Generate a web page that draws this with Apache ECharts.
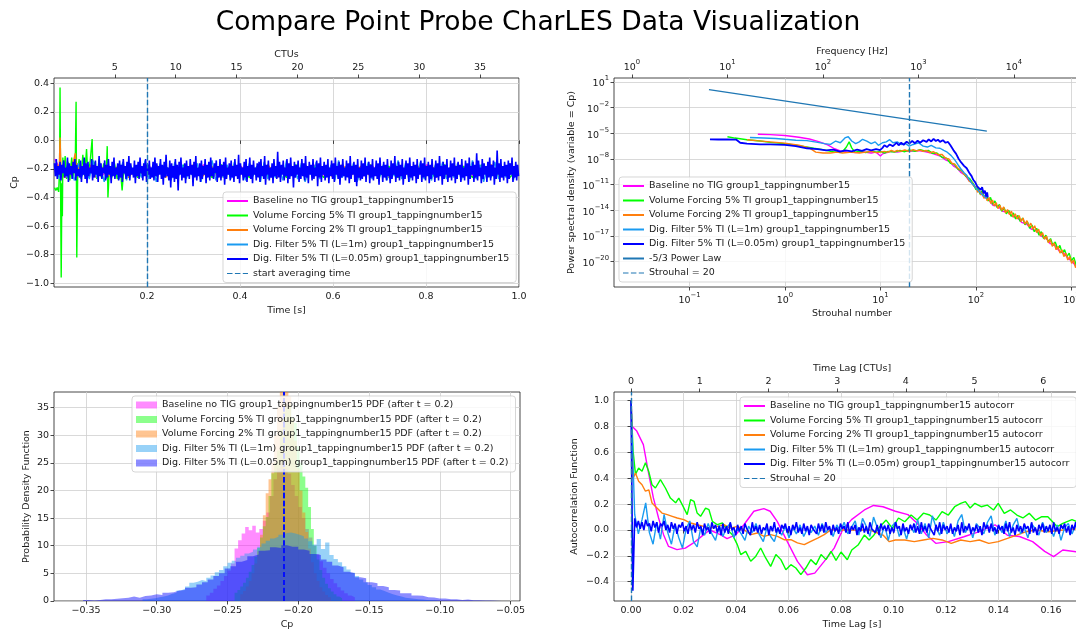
<!DOCTYPE html>
<html><head><meta charset="utf-8">
<script src="https://cdn.jsdelivr.net/npm/echarts@6/dist/echarts.min.js"></script>
<style>html,body{margin:0;padding:0;background:#fff}#c{width:1076px;height:633px}</style>
</head><body><div id="c"></div>
<script>
// ---------------- shared ----------------
const seriesNames = [
  'Baseline no TIG group1_tappingnumber15',
  'Volume Forcing 5% TI group1_tappingnumber15',
  'Volume Forcing 2% TI group1_tappingnumber15',
  'Dig. Filter 5% TI (L=1m) group1_tappingnumber15',
  'Dig. Filter 5% TI (L=0.05m) group1_tappingnumber15'
];
const seriesColors = ['#ff00ff', '#00ff00', '#ff7f0e', '#1a9bf0', '#0000ff'];
const refColor = '#1f77b4';

// ---------------- plot 1: Cp time series ----------------
const tsStartDF005 = 0.001, tsStepDF005 = 0.002;
const cpDF005 = [
-0.16,-0.25,-0.13,-0.27,-0.18,-0.24,-0.15,-0.28,-0.17,-0.23,
-0.14,-0.26,-0.19,-0.25,-0.12,-0.29,-0.16,-0.24,-0.18,-0.27,
-0.15,-0.23,-0.13,-0.28,-0.17,-0.25,-0.20,-0.26,-0.14,-0.29,
-0.18,-0.24,-0.12,-0.27,-0.16,-0.30,-0.15,-0.25,-0.19,-0.23,
-0.13,-0.28,-0.17,-0.26,-0.14,-0.24,-0.18,-0.29,-0.11,-0.25,
-0.16,-0.27,-0.19,-0.23,-0.14,-0.28,-0.17,-0.26,-0.13,-0.24,
-0.18,-0.30,-0.15,-0.25,-0.12,-0.27,-0.19,-0.24,-0.16,-0.28,
-0.14,-0.26,-0.17,-0.29,-0.13,-0.23,-0.18,-0.27,-0.15,-0.25,
-0.11,-0.28,-0.16,-0.24,-0.19,-0.26,-0.14,-0.30,-0.17,-0.25,
-0.15,-0.27,-0.12,-0.23,-0.18,-0.28,-0.16,-0.25,-0.13,-0.29,
-0.17,-0.24,-0.14,-0.27,-0.19,-0.26,-0.15,-0.28,-0.12,-0.25,
-0.16,-0.29,-0.18,-0.24,-0.13,-0.27,-0.17,-0.31,-0.15,-0.26,
-0.10,-0.25,-0.19,-0.28,-0.14,-0.33,-0.16,-0.26,-0.18,-0.29,
-0.13,-0.27,-0.17,-0.35,-0.15,-0.24,-0.12,-0.28,-0.19,-0.26,
-0.16,-0.30,-0.14,-0.25,-0.18,-0.27,-0.13,-0.24,-0.17,-0.32,
-0.15,-0.26,-0.11,-0.28,-0.19,-0.25,-0.16,-0.29,-0.14,-0.27,
-0.18,-0.24,-0.13,-0.30,-0.17,-0.26,-0.15,-0.28,-0.12,-0.25,
-0.19,-0.27,-0.16,-0.23,-0.14,-0.29,-0.18,-0.26,-0.13,-0.28,
-0.17,-0.25,-0.15,-0.31,-0.12,-0.27,-0.19,-0.24,-0.16,-0.28,
-0.14,-0.26,-0.18,-0.29,-0.13,-0.25,-0.17,-0.27,-0.10,-0.30,
-0.16,-0.24,-0.19,-0.28,-0.15,-0.26,-0.13,-0.29,-0.18,-0.25,
-0.12,-0.27,-0.17,-0.30,-0.14,-0.24,-0.19,-0.28,-0.16,-0.26,
-0.15,-0.29,-0.13,-0.25,-0.18,-0.27,-0.11,-0.31,-0.17,-0.24,
-0.14,-0.28,-0.19,-0.26,-0.16,-0.30,-0.13,-0.25,-0.18,-0.27,
-0.08,-0.26,-0.15,-0.29,-0.17,-0.24,-0.14,-0.28,-0.19,-0.25,
-0.13,-0.30,-0.16,-0.27,-0.12,-0.25,-0.18,-0.33,-0.15,-0.26,
-0.17,-0.24,-0.14,-0.29,-0.19,-0.27,-0.13,-0.25,-0.16,-0.28,
-0.11,-0.26,-0.18,-0.30,-0.15,-0.24,-0.17,-0.28,-0.13,-0.27,
-0.19,-0.25,-0.14,-0.32,-0.16,-0.26,-0.12,-0.29,-0.18,-0.24,
-0.15,-0.28,-0.17,-0.26,-0.13,-0.30,-0.19,-0.25,-0.14,-0.27,
-0.16,-0.29,-0.12,-0.24,-0.18,-0.27,-0.15,-0.31,-0.17,-0.26,
-0.13,-0.25,-0.19,-0.28,-0.14,-0.26,-0.16,-0.30,-0.11,-0.27,
-0.18,-0.24,-0.15,-0.29,-0.17,-0.32,-0.13,-0.26,-0.19,-0.28,
-0.14,-0.27,-0.16,-0.25,-0.12,-0.29,-0.18,-0.24,-0.15,-0.30,
-0.17,-0.26,-0.13,-0.28,-0.19,-0.25,-0.14,-0.27,-0.16,-0.31,
-0.12,-0.24,-0.18,-0.29,-0.15,-0.26,-0.17,-0.28,-0.13,-0.25,
-0.19,-0.30,-0.14,-0.27,-0.16,-0.24,-0.11,-0.29,-0.18,-0.26,
-0.15,-0.28,-0.17,-0.25,-0.13,-0.31,-0.19,-0.27,-0.14,-0.24,
-0.16,-0.29,-0.12,-0.26,-0.18,-0.28,-0.15,-0.25,-0.17,-0.30,
-0.13,-0.27,-0.19,-0.24,-0.14,-0.29,-0.16,-0.26,-0.12,-0.28,
-0.18,-0.25,-0.15,-0.30,-0.17,-0.27,-0.13,-0.24,-0.19,-0.29,
-0.14,-0.26,-0.16,-0.28,-0.11,-0.25,-0.18,-0.31,-0.15,-0.27,
-0.17,-0.24,-0.13,-0.29,-0.19,-0.26,-0.14,-0.28,-0.16,-0.25,
-0.12,-0.30,-0.18,-0.27,-0.15,-0.24,-0.17,-0.29,-0.13,-0.26,
-0.19,-0.28,-0.14,-0.25,-0.16,-0.31,-0.12,-0.27,-0.18,-0.24,
-0.15,-0.29,-0.17,-0.26,-0.09,-0.28,-0.14,-0.25,-0.19,-0.30,
-0.13,-0.27,-0.16,-0.24,-0.18,-0.29,-0.15,-0.26,-0.12,-0.28,
-0.17,-0.25,-0.14,-0.31,-0.19,-0.27,-0.07,-0.24,-0.16,-0.29,
-0.13,-0.26,-0.18,-0.28,-0.15,-0.25,-0.17,-0.30,-0.14,-0.27,
-0.16,-0.24,-0.12,-0.29,-0.18,-0.26,-0.15,-0.28,-0.17,-0.25
];
const tsStartDF1 = 0.004, tsStepDF1 = 0.008;
const cpDF1 = [
-0.18,-0.27,-0.15,-0.26,-0.20,-0.28,-0.16,-0.25,-0.19,-0.27,
-0.14,-0.26,-0.18,-0.29,-0.16,-0.25,-0.20,-0.27,-0.15,-0.28,
-0.17,-0.25,-0.19,-0.26,-0.14,-0.27,-0.18,-0.29,-0.16,-0.26,
-0.19,-0.28,-0.15,-0.25,-0.17,-0.27,-0.20,-0.26,-0.16,-0.29,
-0.18,-0.25,-0.14,-0.28,-0.19,-0.26,-0.17,-0.27,-0.15,-0.26,
-0.20,-0.28,-0.16,-0.25,-0.18,-0.29,-0.15,-0.27,-0.19,-0.26,
-0.17,-0.28,-0.14,-0.25,-0.18,-0.27,-0.16,-0.29,-0.20,-0.26,
-0.15,-0.27,-0.19,-0.25,-0.17,-0.28,-0.14,-0.26,-0.18,-0.27,
-0.16,-0.29,-0.20,-0.25,-0.15,-0.27,-0.18,-0.26,-0.17,-0.28,
-0.19,-0.25,-0.14,-0.27,-0.16,-0.29,-0.18,-0.26,-0.15,-0.27,
-0.20,-0.28,-0.17,-0.25,-0.15,-0.27,-0.19,-0.26,-0.16,-0.28,
-0.18,-0.25,-0.14,-0.27,-0.17,-0.29,-0.19,-0.26,-0.15,-0.27,
-0.18,-0.26,-0.16,-0.28,-0.17
];
const tsStartBase = 0.002, tsStepBase = 0.02;
const cpBase = [
-0.13,-0.26,-0.18,-0.24,-0.17,-0.25,-0.19,-0.23,-0.18,-0.26,
-0.17,-0.24,-0.19,-0.25,-0.18,-0.23,-0.17,-0.26,-0.19,-0.24,
-0.18,-0.25,-0.17,-0.23,-0.19,-0.26,-0.18,-0.24,-0.17,-0.25,
-0.19,-0.23,-0.18,-0.26,-0.17,-0.24,-0.19,-0.25,-0.18,-0.23,
-0.17,-0.26,-0.19,-0.24,-0.18,-0.25,-0.17,-0.23,-0.19,-0.24
];
const cpVF5 = [[0.001,-0.33],[0.004,-0.35],[0.007,-0.33],[0.010,-0.36],[0.012,-0.2],[0.013,0.37],[0.0145,-0.5],[0.0155,-0.96],[0.017,-0.3],[0.018,-0.53],[0.019,-0.12],[0.021,-0.25],[0.024,-0.11],[0.027,-0.27],[0.03,-0.15],[0.034,-0.28],[0.038,-0.12],[0.042,-0.26],[0.046,-0.09],[0.0475,0.27],[0.049,-0.82],[0.051,-0.2],[0.054,-0.13],[0.058,-0.27],[0.062,-0.1],[0.066,-0.25],[0.07,-0.06],[0.073,-0.26],[0.078,-0.14],[0.082,0.01],[0.084,-0.25],[0.088,-0.15],[0.092,-0.27],[0.097,-0.13],[0.102,-0.26],[0.107,-0.16],[0.112,-0.27],[0.1145,-0.04],[0.116,-0.4],[0.119,-0.2],[0.124,-0.26],[0.13,-0.16],[0.136,-0.27],[0.142,-0.17],[0.1465,-0.35],[0.15,-0.2],[0.156,-0.26],[0.162,-0.17],[0.18,-0.26],[0.2,-0.17],[0.22,-0.25],[0.24,-0.18],[0.26,-0.26],[0.28,-0.17],[0.3,-0.25],[0.32,-0.18],[0.34,-0.26],[0.36,-0.17],[0.38,-0.25],[0.4,-0.18],[0.42,-0.26],[0.44,-0.17],[0.46,-0.25],[0.48,-0.18],[0.5,-0.26],[0.52,-0.17],[0.54,-0.25],[0.56,-0.18],[0.58,-0.26],[0.6,-0.17],[0.62,-0.25],[0.64,-0.18],[0.66,-0.26],[0.68,-0.17],[0.7,-0.25],[0.72,-0.18],[0.74,-0.26],[0.76,-0.17],[0.78,-0.25],[0.8,-0.18],[0.82,-0.26],[0.84,-0.17],[0.86,-0.25],[0.88,-0.18],[0.9,-0.26],[0.92,-0.17],[0.94,-0.25],[0.96,-0.18],[0.98,-0.26],[0.998,-0.2]];
const cpVF2 = [[0.002,-0.22],[0.008,-0.17],[0.011,-0.25],[0.013,0.02],[0.015,-0.2],[0.02,-0.16],[0.025,-0.26],[0.03,-0.18],[0.035,-0.24],[0.04,-0.17],[0.046,-0.09],[0.048,-0.27],[0.05,-0.16],[0.055,-0.24],[0.06,-0.18],[0.07,-0.25],[0.08,-0.17],[0.09,-0.26],[0.1,-0.18],[0.12,-0.25],[0.14,-0.17],[0.16,-0.26],[0.18,-0.18],[0.2,-0.25],[0.22,-0.17],[0.24,-0.26],[0.26,-0.18],[0.28,-0.24],[0.3,-0.17],[0.32,-0.25],[0.34,-0.18],[0.36,-0.26],[0.38,-0.17],[0.4,-0.24],[0.42,-0.18],[0.44,-0.25],[0.46,-0.17],[0.48,-0.26],[0.5,-0.18],[0.52,-0.24],[0.54,-0.17],[0.56,-0.25],[0.58,-0.18],[0.6,-0.26],[0.62,-0.17],[0.64,-0.24],[0.66,-0.18],[0.68,-0.25],[0.7,-0.17],[0.72,-0.26],[0.74,-0.18],[0.76,-0.24],[0.78,-0.17],[0.8,-0.25],[0.82,-0.18],[0.84,-0.26],[0.86,-0.17],[0.88,-0.24],[0.9,-0.18],[0.92,-0.25],[0.94,-0.17],[0.96,-0.26],[0.98,-0.18],[0.998,-0.24]];
const avgStartTime = 0.2;
const ctuPerSecond = 38.2;
const timeTicks = [0.2, 0.4, 0.6, 0.8, 1.0];
const cpTicks = [-1.0, -0.8, -0.6, -0.4, -0.2, 0.0, 0.2, 0.4];
const ctuTicks = [5, 10, 15, 20, 25, 30, 35];

// ---------------- plot 2: PSD ----------------
const psdBase = [[0.52,7.9e-6],[0.7,7.1e-6],[1.0,5.6e-6],[1.4,3.5e-6],[1.8,2.2e-6],[2.3,1.0e-6],[2.8,4.5e-7],[3.3,1.58e-7],[3.8,8.9e-8],[4.5,6.3e-8],[5.5,5.6e-8],[6.5,7.1e-8],[8,5.0e-8],[9,6.3e-8],[10,2.2e-8],[10.5,4.0e-8],[11,6.3e-8],[13,7.9e-8],[15,6.3e-8],[18,8.9e-8],[20,7.9e-8],[25,1.0e-7],[30,7.1e-8],[34,5.0e-8],[38,3.2e-8],[43,2.0e-8],[48,7.9e-9],[53,5.0e-9],[58,1.58e-9],[64,7.9e-10],[70,2.5e-10],[77,1.26e-10],[84,3.2e-11],[92,1.58e-11],[100,3.2e-12],[110,1.58e-12],[122,3.2e-13],[135,2.0e-13],[150,4.0e-14],[170,3.2e-14],[190,7.9e-15],[215,6.3e-15],[240,2.0e-15],[270,1.58e-15],[300,4.0e-16],[340,2.5e-16],[380,6.3e-17],[430,4.0e-17],[480,1.0e-17],[540,6.3e-18],[600,1.26e-18],[670,7.9e-19],[750,1.58e-19],[830,1.0e-19],[920,2.5e-20],[1020,1.0e-20],[1130,2.5e-21],[1250,1.0e-21],[1400,2.0e-22],[1550,7.9e-23]];
const psdVF5 = [[0.25,4.0e-6],[0.3,2.8e-6],[0.4,1.8e-6],[0.55,1.26e-6],[0.7,8.9e-7],[1.0,6.3e-7],[1.5,3.2e-7],[2.0,1.8e-7],[2.5,1.26e-7],[3.0,7.9e-8],[3.5,6.3e-8],[4.0,7.1e-8],[4.4,2.5e-7],[4.7,1.0e-6],[5.0,2.0e-7],[5.4,6.3e-8],[6,7.9e-8],[7,5.6e-8],[8,8.9e-8],[9,6.3e-8],[10,7.9e-8],[11,5.0e-8],[12,7.9e-8],[14,6.3e-8],[16,1.0e-7],[18,7.1e-8],[20,1.12e-7],[23,7.9e-8],[26,1.26e-7],[29,8.9e-8],[32,1.0e-7],[35,4.5e-8],[39,5.0e-8],[44,1.58e-8],[49,1.26e-8],[54,3.2e-9],[59,2.5e-9],[65,6.3e-10],[71,4.0e-10],[78,1.0e-10],[86,5.0e-11],[94,1.26e-11],
  [100,2.5e-12],[105,5.0e-12],[110,7.9e-13],[116,2.0e-12],[122,3.2e-13],[128,7.9e-13],[135,1.26e-13],[142,3.2e-13],[150,5.0e-14],[158,1.26e-13],[167,2.0e-14],[176,5.0e-14],[186,7.9e-15],[197,2.0e-14],[208,4.0e-15],[220,1.0e-14],[233,2.0e-15],[246,5.0e-15],[260,1.0e-15],[275,2.5e-15],[291,5.0e-16],[308,1.26e-15],[326,2.0e-16],[345,5.0e-16],[365,7.9e-17],[386,2.0e-16],[408,3.2e-17],[432,7.9e-17],[457,1.26e-17],[483,3.2e-17],[511,5.0e-18],[540,1.26e-17],[571,2.0e-18],[604,5.0e-18],[639,7.9e-19],[676,2.0e-18],[715,3.2e-19],[756,7.9e-19],[800,1.0e-19],[846,2.5e-19],[895,4.0e-20],[946,1.0e-19],[1000,1.26e-20],[1058,3.2e-20],[1119,4.0e-21],[1183,1.0e-20],[1251,1.26e-21],[1323,2.5e-21],[1400,3.2e-22],[1480,6.3e-22],[1563,7.9e-23]];
const psdVF2 = [[0.40,1.8e-6],[0.5,1.4e-6],[0.7,1.0e-6],[1.0,7.1e-7],[1.4,4.0e-7],[1.8,2.0e-7],[2.1,6.3e-8],[2.5,5.0e-8],[3.0,5.0e-8],[3.5,6.3e-8],[4.0,5.0e-8],[5,6.3e-8],[6,5.0e-8],[7,6.3e-8],[8,7.9e-8],[9,5.6e-8],[10,6.3e-8],[11,7.9e-8],[12,6.3e-8],[13,1.0e-7],[14,7.1e-8],[15,1.0e-7],[16,7.9e-8],[18,1.12e-7],[20,7.9e-8],[22,1.26e-7],[24,8.9e-8],[26,1.12e-7],[28,7.9e-8],[30,1.0e-7],[33,5.6e-8],[36,7.1e-8],[40,3.2e-8],[44,3.5e-8],[48,1.26e-8],[52,1.0e-8],[56,3.2e-9],[60,2.5e-9],[65,7.9e-10],[70,5.0e-10],[75,1.58e-10],[80,1.0e-10],[85,2.5e-11],[90,2.0e-11],[95,6.3e-12],
  [100,6.3e-12],[104,1.26e-12],[108,2.5e-12],[112,6.3e-13],[116,1.26e-12],[121,2.5e-13],[126,6.3e-13],[131,1.26e-13],[137,3.2e-13],[143,6.3e-14],[149,1.58e-13],[156,3.2e-14],[163,7.9e-14],[170,1.58e-14],[178,4.0e-14],[186,1.0e-14],[195,2.5e-14],[204,5.0e-15],[214,1.26e-14],[224,3.2e-15],[235,7.9e-15],[246,1.58e-15],[258,4.0e-15],[270,1.0e-15],[283,2.5e-15],[297,5.0e-16],[311,1.26e-15],[326,2.5e-16],[342,6.3e-16],[358,1.26e-16],[375,3.2e-16],[393,6.3e-17],[412,1.58e-16],[432,2.5e-17],[453,6.3e-17],[475,1.0e-17],[498,2.5e-17],[522,4.0e-18],[547,1.0e-17],[573,1.58e-18],[600,4.0e-18],[629,6.3e-19],[659,1.58e-18],[690,2.5e-19],[723,6.3e-19],[758,1.0e-19],[794,2.5e-19],[832,4.0e-20],[872,1.0e-19],[914,1.58e-20],[958,4.0e-20],[1004,6.3e-21],[1052,1.58e-20],[1102,2.0e-21],[1155,5.0e-21],[1210,6.3e-22],[1268,1.58e-21],[1329,2.0e-22],[1393,5.0e-22],[1460,6.3e-23],[1530,1.58e-22],[1563,4.0e-23]];
const psdDF1 = [[0.43,3.2e-6],[0.6,2.8e-6],[0.8,2.5e-6],[1.0,2.0e-6],[1.3,1.58e-6],[1.7,1.4e-6],[2.2,8.9e-7],[2.6,6.3e-7],[3.0,5.2e-7],[3.4,1.26e-6],[3.8,7.9e-7],[4.3,3.2e-6],[4.6,4.0e-6],[5.0,1.26e-6],[5.5,6.3e-7],[6.0,1.0e-6],[6.5,2.0e-6],[7.2,1.26e-6],[8,6.3e-7],[8.8,1.0e-6],[9.5,4.0e-7],[10.5,7.9e-7],[11.5,1.0e-6],[12.5,1.8e-6],[13.5,7.9e-7],[15,1.0e-6],[16.5,5.0e-7],[18,7.1e-7],[20,3.2e-7],[22,5.0e-7],[25,7.9e-7],[28,3.2e-7],[31,2.5e-7],[34,4.0e-7],[38,2.0e-7],[42,1.8e-7],[46,1.0e-7],[50,6.3e-8],[55,2.5e-8],[60,7.9e-9],[65,2.0e-9],[70,6.3e-10],[75,2.5e-10],[80,1.26e-10],[85,4.0e-11],[90,1.58e-11],[95,7.9e-12],[100,4.0e-12],[110,1.26e-12],[120,5.0e-13],[130,2.5e-13]];
const psdDF005 = [[0.164,2.0e-6],[0.2,1.9e-6],[0.25,2.0e-6],[0.31,1.8e-6],[0.34,7.9e-7],[0.4,6.3e-7],[0.55,5.2e-7],[0.7,5.0e-7],[1.0,4.5e-7],[1.3,3.2e-7],[1.7,1.8e-7],[2.2,1.4e-7],[2.7,1.0e-7],[3.2,1.26e-7],[3.77,7.2e-8],[4.3,1.0e-7],[5,7.9e-8],[5.7,1.26e-7],[6.4,8.9e-8],[7.16,1.4e-7],[8,1.0e-7],[9,1.4e-7],[9.9,1.1e-7],[10.5,2.0e-7],[11,4.0e-7],[11.7,2.5e-7],[12.5,5.0e-7],[13.5,3.2e-7],[14.8,8.1e-7],[15.5,4.0e-7],[16.5,7.9e-7],[17.5,4.5e-7],[18.8,1.07e-6],[20,6.3e-7],[21.5,1.26e-6],[23,7.1e-7],[24.5,1.4e-6],[26,7.9e-7],[28,1.58e-6],[30.4,1.0e-6],[32,2.0e-6],[34,1.12e-6],[36,2.2e-6],[38,1.26e-6],[40,1.8e-6],[42,1.0e-6],[45,1.58e-6],[48,7.9e-7],[51,1.0e-6],[54,4.0e-7],[58,1.1e-7],[62,4.0e-8],[66,1.0e-8],[70,4.0e-9],[75,1.58e-9],[80,8.3e-10],[85,2.5e-10],[90,1.0e-10],[94,3.5e-11],[98,2.0e-11],[103,6.3e-12],[108,7.9e-12],[112,2.5e-12],[116,5.0e-12],[120,1.0e-12],[124,2.0e-12],[128,4.0e-13],[131,1.26e-12],[133,3.2e-13]];
const powerLaw = [[0.16, 1.3], [130, 1.8e-5]];
const strouhalMark = 20;
const hzPerStrouhal = 40;
const stTicks = [0.1, 1, 10, 100, 1000];
const hzTicks = [1, 10, 100, 1000, 10000];
const psdTicks = [1e1, 1e-2, 1e-5, 1e-8, 1e-11, 1e-14, 1e-17, 1e-20];

// ---------------- plot 3: PDF histograms ----------------
const pdfBaseStart = -0.265, pdfBaseWidth = 0.0025;
const pdfBase = [1.0,1.5,2.2,2.8,3.6,4.5,5.5,6.8,9.5,11.0, 12.2,13.4,12.8,13.6,12.4,13.0,14.5,16.0,19.0,22.0, 24.0,25.0,24.0,23.0,21.0,19.0,17.0,15.0,13.0,11.5, 10.0,8.5,7.2,6.0,5.0,4.0,3.2,2.5,1.9,1.4, 1.0,0.7];
const pdfVF5Start = -0.245, pdfVF5Width = 0.002;
const pdfVF5 = [1.5,2.0,2.6,3.3,4.2,5.3,6.5,8.0,9.6,11.5, 13.5,15.2,19.0,23.1,25.0,27.2,31.0,34.1,35.0,35.5, 33.2,32.2,28.0,25.0,22.5,20.5,17.0,13.0,10.0,7.5, 5.6,4.2,3.1,2.3,1.7,1.2,0.8,0.5];
const pdfVF2Start = -0.241, pdfVF2Width = 0.002;
const pdfVF2 = [1.2,1.8,2.6,3.6,5.0,6.8,9.0,12.0,15.5,19.5, 22.0,25.0,30.0,35.0,39.0,41.0,40.0,37.0,33.0,29.0, 24.0,20.0,16.0,12.5,9.5,7.0,5.0,3.6,2.5,1.7, 1.1,0.7];
const pdfDF1Start = -0.310, pdfDF1Width = 0.003;
const pdfDF1 = [0.3,0.4,0.5,0.7,0.8,1.0,1.3,1.5,1.9,2.2, 2.6,3.3,3.5,3.8,3.6,4.2,4.6,5.2,5.6,6.3, 6.9,7.3,7.8,8.2,8.6,8.9,9.3,9.8,10.4,10.9, 11.3,11.6,12.0,12.3,12.4,12.2,12.0,11.7,11.3,10.8, 10.2,11.2,9.4,10.6,8.3,7.6,7.0,6.3,5.7,5.1, 4.5,3.9,3.4,2.9,2.5,2.1,1.8,1.5,1.2,1.0, 0.8,0.6,0.5,0.4,0.3,0.25,0.2,0.15,0.1,0.1];
const pdfDF005Start = -0.352, pdfDF005Width = 0.004;
const pdfDF005 = [0.2,0.1,0.2,0.3,0.3,0.4,0.5,0.6,0.8,0.6, 0.9,1.0,1.2,1.1,1.5,1.6,1.9,2.0,2.4,2.5, 3.0,3.4,3.9,4.5,5.0,5.9,6.3,7.1,7.4,8.1, 8.4,9.1,9.2,9.7,9.6,10.1,9.8,9.8,9.3,9.1, 8.5,8.3,7.5,7.1,6.4,6.1,5.3,5.0,4.3,4.1, 3.4,3.2,2.7,2.5,2.0,1.9,1.4,1.4,1.0,0.95, 0.7,0.65,0.45,0.45,0.3,0.3,0.2,0.25,0.15,0.15, 0.1,0.1,0.05,0.1];
const pdfMeans = [-0.2115, -0.2085, -0.2092, -0.2086, -0.2079];
const pdfXTicks = [-0.35, -0.30, -0.25, -0.20, -0.15, -0.10, -0.05];
const pdfYTicks = [0, 5, 10, 15, 20, 25, 30, 35];

// ---------------- plot 4: autocorrelation ----------------
const acfBase = [[0,1.0],[0.0005,0.80],[0.0022,0.765],[0.0047,0.66],[0.0066,0.45],[0.0085,0.25],[0.0105,0.093],[0.0124,-0.036],[0.0143,-0.127],[0.0175,-0.152],[0.0207,-0.14],[0.0238,-0.10],[0.0277,-0.036],[0.030,0.0],[0.034,-0.036],[0.0366,-0.067],[0.040,-0.036],[0.043,0.041],[0.0468,0.145],[0.0506,0.165],[0.053,0.145],[0.0557,0.067],[0.0595,-0.088],[0.0634,-0.243],[0.0672,-0.346],[0.070,-0.333],[0.0736,-0.243],[0.0774,-0.14],[0.0806,0.0],[0.084,0.08],[0.0889,0.155],[0.0924,0.19],[0.096,0.18],[0.1007,0.145],[0.1055,0.119],[0.109,0.052],[0.1126,-0.039],[0.1161,-0.103],[0.1209,-0.09],[0.1268,-0.052],[0.1327,-0.013],[0.1387,0.04],[0.1434,-0.04],[0.148,-0.05],[0.153,-0.09],[0.1576,-0.165],[0.161,-0.206],[0.1645,-0.155],[0.17,-0.17],[0.175,-0.15]];
const acfVF5 = [[0,1.0],[0.0008,0.61],[0.0017,0.43],[0.0029,0.48],[0.0042,0.455],[0.0055,0.52],[0.0068,0.45],[0.008,0.35],[0.0093,0.325],[0.0112,0.39],[0.0131,0.325],[0.015,0.247],[0.017,0.21],[0.0182,0.247],[0.0195,0.196],[0.0214,0.119],[0.0227,0.235],[0.024,0.222],[0.0252,0.131],[0.0265,0.106],[0.0284,0.17],[0.0297,0.157],[0.031,0.067],[0.0329,0.041],[0.0348,0.054],[0.0367,0.003],[0.0386,-0.036],[0.0405,-0.113],[0.0418,-0.19],[0.0437,-0.165],[0.0456,-0.242],[0.0475,-0.204],[0.0494,-0.139],[0.0513,-0.216],[0.0532,-0.281],[0.0552,-0.19],[0.0571,-0.229],[0.059,-0.307],[0.0609,-0.268],[0.0628,-0.294],[0.0647,-0.345],[0.0666,-0.294],[0.0685,-0.229],[0.0705,-0.268],[0.0724,-0.19],[0.0743,-0.229],[0.0762,-0.165],[0.0781,-0.235],[0.08,-0.17],[0.0824,-0.23],[0.0841,-0.155],[0.0865,-0.116],[0.0889,-0.039],[0.0907,-0.077],[0.0925,-0.04],[0.0948,0.026],[0.0972,0.077],[0.0996,0.013],[0.1019,0.093],[0.1043,0.064],[0.1067,0.116],[0.109,0.077],[0.1114,0.13],[0.1138,0.116],[0.1162,0.077],[0.1185,0.142],[0.1209,0.116],[0.1233,0.18],[0.1256,0.206],[0.1274,0.219],[0.1292,0.17],[0.131,0.206],[0.1334,0.18],[0.1357,0.193],[0.1381,0.155],[0.1399,0.206],[0.1422,0.129],[0.1446,0.155],[0.147,0.116],[0.1493,0.093],[0.1517,0.129],[0.1541,0.077],[0.1565,0.103],[0.1588,0.103],[0.1606,0.064],[0.1624,0.026],[0.1645,0.052],[0.168,0.08],[0.172,0.05],[0.175,0.07]];
const acfVF2 = [[0,1.0],[0.0008,0.40],[0.0017,0.44],[0.0029,0.377],[0.0042,0.35],[0.0055,0.30],[0.0068,0.31],[0.008,0.209],[0.0099,0.17],[0.0118,0.131],[0.0138,0.119],[0.0157,0.106],[0.0176,0.093],[0.0201,0.08],[0.0227,0.054],[0.0252,0.041],[0.0277,0.028],[0.0303,0.015],[0.0328,0.028],[0.0354,0.041],[0.0379,0.015],[0.0405,0.028],[0.043,0.003],[0.0456,-0.036],[0.0481,-0.023],[0.0507,-0.049],[0.0532,-0.036],[0.0558,-0.049],[0.0583,-0.075],[0.0609,-0.075],[0.0634,-0.10],[0.066,-0.113],[0.0685,-0.088],[0.0711,-0.062],[0.0736,-0.036],[0.0762,0.003],[0.08,0.0],[0.0865,0.0],[0.091,0.0],[0.096,-0.039],[0.0984,-0.09],[0.1007,-0.077],[0.1043,-0.077],[0.1079,-0.09],[0.1114,-0.077],[0.115,-0.065],[0.1185,-0.077],[0.122,-0.103],[0.1256,-0.077],[0.1292,-0.09],[0.1327,-0.077],[0.1363,-0.103],[0.1399,-0.09],[0.1434,-0.065],[0.147,-0.039],[0.1505,-0.013],[0.1541,0],[0.159,-0.013],[0.1645,0],[0.17,0.01],[0.175,0.0]];
const lagStartDF1 = 0, lagStepDF1 = 0.0014;
const acfDF1 = [
1.0,0.12,-0.03,0.08,0.21,-0.02,-0.11,0.06,-0.07,0.12,
-0.02,-0.11,0.04,-0.06,-0.14,0.01,0.07,-0.09,-0.13,0.02,
-0.04,0.05,-0.03,-0.08,0.04,-0.05,0.02,0.05,-0.06,0.01,
-0.03,-0.08,0.03,-0.02,0.05,-0.04,-0.09,0.02,-0.05,-0.09,
0.01,-0.04,0.03,-0.06,0.02,-0.03,0.04,-0.05,0.01,-0.02,
0.03,-0.04,0.05,-0.02,0.02,-0.05,0.04,-0.01,0.06,-0.03,
0.02,0.07,-0.04,0.09,0.03,-0.05,0.10,0.02,-0.06,0.04,
-0.08,0.03,0.06,-0.05,0.02,-0.07,0.04,-0.02,0.08,-0.03,
0.05,-0.06,0.11,0.02,-0.04,0.06,-0.03,0.03,-0.05,0.07,
0.12,-0.02,0.04,-0.06,0.05,0.01,-0.03,0.06,0.11,-0.04,
0.03,-0.02,0.07,-0.05,0.04,0.09,-0.03,0.02,-0.06,0.05,
0.01,-0.04,0.06,-0.02,0.03,-0.05,0.04,-0.08,0.02,0.05,
-0.03,0.04,-0.06,0.03,-0.01,0.02
];
const lagStartDF005 = 0, lagStepDF005 = 0.0007;
const acfDF005 = [
1.0,-0.47,0.09,0.02,0.07,0.01,0.06,0.0,0.08,0.03,
0.05,-0.01,0.07,0.02,0.06,-0.02,0.05,0.03,0.07,0.0,
0.04,-0.02,0.06,0.01,0.05,-0.03,0.04,0.02,0.06,-0.01,
0.03,-0.03,0.05,0.0,0.04,-0.02,0.06,0.01,0.03,-0.04,
0.05,0.0,0.02,-0.03,0.06,0.01,0.04,-0.02,0.03,-0.04,
0.05,-0.02,0.03,-0.03,0.06,0.0,0.02,-0.04,0.04,-0.01,
0.03,-0.03,0.05,0.01,0.02,-0.04,0.06,-0.01,0.03,-0.02,
0.04,-0.03,0.02,0.0,0.05,-0.04,0.03,-0.01,0.06,-0.02,
0.02,-0.03,0.04,0.01,0.05,-0.02,0.03,-0.04,0.04,0.0,
0.06,-0.02,0.02,-0.03,0.05,-0.01,0.03,-0.04,0.04,0.01,
0.02,-0.03,0.05,-0.01,0.04,-0.02,0.06,0.0,0.03,-0.04,
0.04,-0.01,0.02,-0.03,0.05,0.01,0.03,-0.02,0.06,-0.03,
0.03,0.0,0.04,-0.04,0.02,-0.01,0.05,-0.02,0.03,-0.03,
0.06,0.01,0.02,-0.02,0.04,-0.04,0.05,0.0,0.03,-0.01,
0.04,-0.03,0.02,-0.02,0.06,0.01,0.03,-0.04,0.05,-0.01,
0.02,-0.03,0.04,0.0,0.05,-0.02,0.03,-0.03,0.06,-0.01,
0.03,-0.02,0.05,0.01,0.02,-0.04,0.04,-0.01,0.06,-0.03,
0.04,0.0,0.03,-0.02,0.05,-0.03,0.02,-0.01,0.04,-0.04,
0.06,-0.02,0.03,0.0,0.05,-0.03,0.02,-0.01,0.04,-0.02,
0.03,-0.04,0.06,0.01,0.04,-0.02,0.05,-0.01,0.02,-0.03,
0.04,0.0,0.03,-0.03,0.05,-0.01,0.06,-0.02,0.02,-0.04,
0.04,-0.01,0.03,-0.02,0.05,0.01,0.03,-0.03,0.06,-0.02,
0.02,-0.04,0.04,0.0,0.05,-0.02,0.03,-0.01,0.04,-0.03,
0.06,-0.01,0.02,-0.03,0.04,0.01,0.05,-0.02,0.03,-0.04,
0.04,0.0,0.06,-0.02,0.03,-0.01,0.05,-0.03,0.02,-0.02,
0.05
];
const strouhalLag = 0.00125;
const lagTicks = [0, 0.02, 0.04, 0.06, 0.08, 0.10, 0.12, 0.14, 0.16];
const lagCtuTicks = [0, 1, 2, 3, 4, 5, 6];
const acfTicks = [-0.4, -0.2, 0.0, 0.2, 0.4, 0.6, 0.8, 1.0];

// ---------------- chart construction ----------------
const FONT = 'DejaVu Sans';
const INK = '#1a1a1a';
const FS = 9.5;
const GRIDLINE = '#cfcfcf';
const DASH = [5.5, 2.4];
const SOLID_ICON = 'rect';
const DASH_ICON = 'path://M0,0h5.5v1h-5.5z M7.9,0h5.5v1h-5.5z M15.8,0h5.2v1h-5.2z';
const minus = s => s.replace('-', '\u2212');
const fix = n => v => minus(Number(v).toFixed(n));
const logFmt = v => '{b|10}{s|' + minus(String(Math.round(Math.log10(v)))) + '}';
const RICH = {
  b: {fontSize: FS, fontFamily: FONT, color: INK, lineHeight: 14, verticalAlign: 'bottom'},
  s: {fontSize: 6.8, fontFamily: FONT, color: INK, lineHeight: 14, verticalAlign: 'top'}
};
const indexed = (start, step, arr) => arr.map((v, i) => [start + i * step, v]);

function axis(p) {
  return {
    type: p.type || 'value', gridIndex: p.grid, position: p.position,
    min: p.min, max: p.max, logBase: 10,
    name: p.name, nameLocation: 'middle', nameGap: p.nameGap,
    nameTextStyle: {color: INK, fontSize: FS, fontFamily: FONT},
    axisLine: {show: false},
    axisTick: {show: true, inside: false, length: 3.5, customValues: p.ticks, lineStyle: {color: INK, width: 0.8}},
    axisLabel: {show: true, customValues: p.ticks, formatter: p.fmt, color: INK, fontSize: FS, fontFamily: FONT, margin: 5, rich: RICH},
    splitLine: {show: !!p.split, lineStyle: {color: GRIDLINE, width: 0.8}},
    splitArea: {show: false}, minorTick: {show: false}, minorSplitLine: {show: false}
  };
}

const grids = [
  {left: 54, top: 78, width: 465, height: 209},
  {left: 614, top: 78, width: 476, height: 209},
  {left: 54, top: 392, width: 466, height: 209},
  {left: 614, top: 392, width: 476, height: 209}
].map(g => Object.assign({show: true, borderColor: INK, borderWidth: 0.8, backgroundColor: 'transparent', containLabel: false, outerBoundsMode: 'none'}, g));

const stMin = 0.01622, stMax = 1563;
const lagMin = -0.00648, lagMax = 0.17486;
const xAxes = [
  axis({grid: 0, position: 'bottom', min: 0, max: 1.0, ticks: timeTicks, fmt: fix(1), name: 'Time [s]', nameGap: 19, split: true}),
  axis({grid: 0, position: 'top', min: 0, max: 1.0 * ctuPerSecond, ticks: ctuTicks, fmt: v => String(v), name: 'CTUs', nameGap: 18}),
  axis({grid: 1, type: 'log', position: 'bottom', min: stMin, max: stMax, ticks: stTicks, fmt: logFmt, name: 'Strouhal number', nameGap: 22, split: true}),
  axis({grid: 1, type: 'log', position: 'top', min: stMin * hzPerStrouhal, max: stMax * hzPerStrouhal, ticks: hzTicks, fmt: logFmt, name: 'Frequency [Hz]', nameGap: 21}),
  axis({grid: 2, position: 'bottom', min: -0.3726, max: -0.0433, ticks: pdfXTicks, fmt: fix(2), name: 'Cp', nameGap: 19, split: true}),
  axis({grid: 3, position: 'bottom', min: lagMin, max: lagMax, ticks: lagTicks, fmt: fix(2), name: 'Time Lag [s]', nameGap: 19, split: true}),
  axis({grid: 3, position: 'top', min: lagMin * ctuPerSecond, max: lagMax * ctuPerSecond, ticks: lagCtuTicks, fmt: v => String(v), name: 'Time Lag [CTUs]', nameGap: 18})
];
const yAxes = [
  axis({grid: 0, position: 'left', min: -1.026, max: 0.437, ticks: cpTicks, fmt: fix(1), name: 'Cp', nameGap: 34, split: true}),
  axis({grid: 1, type: 'log', position: 'left', min: 1.1e-23, max: 29.3, ticks: psdTicks, fmt: logFmt, name: 'Power spectral density (variable = Cp)', nameGap: 37, split: true}),
  axis({grid: 2, position: 'left', min: 0, max: 37.8, ticks: pdfYTicks, fmt: v => String(v), name: 'Probability Density Function', nameGap: 22, split: true}),
  axis({grid: 3, position: 'left', min: -0.549, max: 1.0673, ticks: acfTicks, fmt: fix(1), name: 'Autocorrelation Function', nameGap: 34, split: true})
];

function line(name, data, color, xi, yi, width) {
  return {
    type: 'line', name, data, xAxisIndex: xi, yAxisIndex: yi, symbol: 'none', showSymbol: false,
    lineStyle: {color, width: width || 1.4}, itemStyle: {color}, color, silent: true, clip: true
  };
}
function vline(name, x, color, xi, yi, width) {
  return {
    type: 'line', name, data: [], xAxisIndex: xi, yAxisIndex: yi, symbol: 'none', silent: true,
    lineStyle: {color, width: width || 1.4, type: DASH}, itemStyle: {color}, color, z: 3,
    markLine: {silent: true, symbol: 'none', label: {show: false}, animation: false,
      lineStyle: {color, width: width || 1.4, type: DASH}, data: [{xAxis: x}]}
  };
}
function hist(name, start, width, heights, color, xi, yi) {
  const data = heights.map((h, i) => [start + i * width, h]);
  data.push([start + heights.length * width, 0]);
  return {
    type: 'line', name, data, step: 'end', symbol: 'none', showSymbol: false, xAxisIndex: xi, yAxisIndex: yi, silent: true,
    lineStyle: {width: 0, opacity: 0, color}, areaStyle: {color, opacity: 0.45}, itemStyle: {color}, color
  };
}

const pdfNames = seriesNames.map(n => n + ' PDF (after t = 0.2)');
const acfNames = seriesNames.map(n => n + ' autocorr');

const series = [
  // plot 1
  line(seriesNames[0], indexed(tsStartBase, tsStepBase, cpBase), seriesColors[0], 0, 0),
  line(seriesNames[1], cpVF5, seriesColors[1], 0, 0),
  line(seriesNames[2], cpVF2, seriesColors[2], 0, 0),
  line(seriesNames[3], indexed(tsStartDF1, tsStepDF1, cpDF1), seriesColors[3], 0, 0),
  line(seriesNames[4], indexed(tsStartDF005, tsStepDF005, cpDF005), seriesColors[4], 0, 0, 1.6),
  vline('start averaging time', avgStartTime, refColor, 0, 0),
  // plot 2
  line(seriesNames[0], psdBase, seriesColors[0], 2, 1),
  line(seriesNames[1], psdVF5, seriesColors[1], 2, 1),
  line(seriesNames[2], psdVF2, seriesColors[2], 2, 1),
  line(seriesNames[3], psdDF1, seriesColors[3], 2, 1),
  line(seriesNames[4], psdDF005, seriesColors[4], 2, 1, 1.8),
  line('-5/3 Power Law', powerLaw, refColor, 2, 1),
  vline('Strouhal = 20', strouhalMark, refColor, 2, 1),
  // plot 3
  hist(pdfNames[0], pdfBaseStart, pdfBaseWidth, pdfBase, seriesColors[0], 4, 2),
  hist(pdfNames[1], pdfVF5Start, pdfVF5Width, pdfVF5, seriesColors[1], 4, 2),
  hist(pdfNames[2], pdfVF2Start, pdfVF2Width, pdfVF2, seriesColors[2], 4, 2),
  hist(pdfNames[3], pdfDF1Start, pdfDF1Width, pdfDF1, seriesColors[3], 4, 2),
  hist(pdfNames[4], pdfDF005Start, pdfDF005Width, pdfDF005, seriesColors[4], 4, 2),
  ...pdfMeans.map((m, i) => vline(pdfNames[i] + ' mean', m, seriesColors[i], 4, 2, 1.8)),
  // plot 4
  line(acfNames[0], acfBase, seriesColors[0], 5, 3),
  line(acfNames[1], acfVF5, seriesColors[1], 5, 3),
  line(acfNames[2], acfVF2, seriesColors[2], 5, 3),
  line(acfNames[3], indexed(lagStartDF1, lagStepDF1, acfDF1), seriesColors[3], 5, 3),
  line(acfNames[4], indexed(lagStartDF005, lagStepDF005, acfDF005), seriesColors[4], 5, 3, 1.6),
  vline('Strouhal = 20', strouhalLag, refColor, 5, 3)
];

function legend(p) {
  return {
    show: true, orient: 'vertical', left: p.left, top: p.top, data: p.data,
    itemWidth: 21, itemHeight: p.ih || 2, itemGap: 4.5, padding: [4, 7, 4, 4],
    backgroundColor: 'rgba(255,255,255,0.8)', borderColor: 'rgba(204,204,204,0.8)', borderWidth: 1, borderRadius: 3,
    textStyle: {color: INK, fontSize: FS, fontFamily: FONT, lineHeight: 10},
    selectedMode: false, z: 10
  };
}
const lineItems = (names, dashed) => names.map(n => ({name: n, icon: dashed.indexOf(n) >= 0 ? DASH_ICON : SOLID_ICON, itemStyle: {borderWidth: 0}}));
const histAlpha = ['rgba(255,0,255,0.45)', 'rgba(0,255,0,0.45)', 'rgba(255,127,14,0.45)', 'rgba(26,155,240,0.45)', 'rgba(0,0,255,0.45)'];

const option = {
  animation: false,
  backgroundColor: '#ffffff',
  textStyle: {fontFamily: FONT},
  title: {text: 'Compare Point Probe CharLES Data Visualization', left: 'center', top: 10, padding: 0,
    textStyle: {fontSize: 26.5, fontWeight: 'normal', color: '#000', fontFamily: FONT}},
  grid: grids,
  xAxis: xAxes,
  yAxis: yAxes,
  legend: [
    legend({left: 223, top: 192, data: lineItems(seriesNames.concat(['start averaging time']), ['start averaging time'])}),
    legend({left: 619, top: 177, data: lineItems(seriesNames.concat(['-5/3 Power Law', 'Strouhal = 20']), ['Strouhal = 20'])}),
    legend({left: 132, top: 396, ih: 7, data: pdfNames.map((n, i) => ({name: n, icon: 'rect', itemStyle: {color: histAlpha[i], borderWidth: 0}}))}),
    legend({left: 740, top: 397, data: lineItems(acfNames.concat(['Strouhal = 20']), ['Strouhal = 20'])})
  ],
  series
};
const chart = echarts.init(document.getElementById('c'), null, {renderer: 'canvas'});
chart.setOption(option);
</script></body></html>
